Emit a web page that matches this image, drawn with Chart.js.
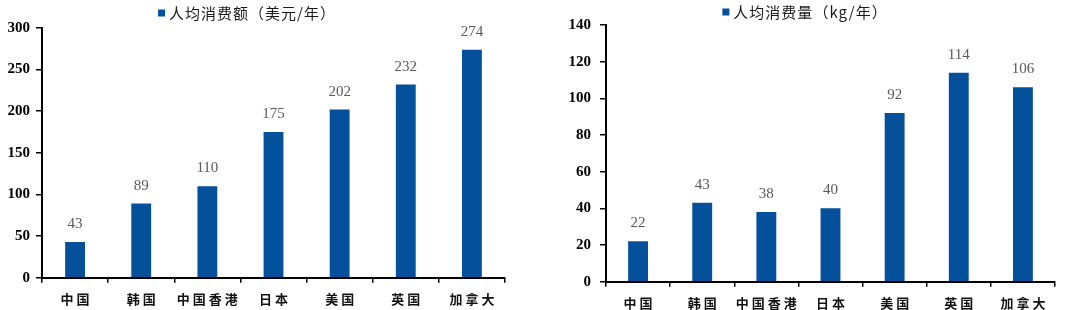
<!DOCTYPE html>
<html><head><meta charset="utf-8">
<script src="https://cdn.jsdelivr.net/npm/chart.js@4.4.0/dist/chart.umd.min.js"></script>
<style>
html,body{margin:0;padding:0;background:#fff;}
#wrap{display:flex;width:1080px;height:310px;}
.box{position:relative;width:540px;height:310px;}
</style></head><body>
<div id="wrap"><div class="box"><canvas id="c1"></canvas></div><div class="box"><canvas id="c2"></canvas></div></div>
<script>
const categories = ['中国','韩国','中国香港','日本','美国','英国','加拿大'];
const spendLabel = '人均消费额（美元/年）';
const spendValues = [43, 89, 110, 175, 202, 232, 274];
const volumeLabel = '人均消费量（kg/年）';
const volumeValues = [22, 43, 38, 40, 92, 114, 106];
const spendTicks = {min:0, max:300, step:50};
const volumeTicks = {min:0, max:140, step:20};

const BAR = '#05509a';

const valueLabels = {
  id:'valueLabels',
  afterDatasetsDraw(chart){
    const ctx = chart.ctx;
    ctx.save();
    ctx.font = '15px "Liberation Serif"';
    ctx.fillStyle = '#595959';
    ctx.textAlign = 'center';
    ctx.textBaseline = 'middle';
    const meta = chart.getDatasetMeta(0);
    meta.data.forEach((el,i)=>{
      ctx.fillText(String(chart.data.datasets[0].data[i]), el.x, el.y - 18);
    });
    ctx.restore();
  }
};
const customLegend = {
  id:'customLegend',
  afterDraw(chart, args, opts){
    const ctx = chart.ctx;
    ctx.save();
    ctx.font = '15px "Noto Sans CJK SC"';
    ctx.letterSpacing = '1px';
    const text = chart.data.datasets[0].label;
    const tw = ctx.measureText(text).width;
    const total = 7 + 4 + tw;
    const x0 = opts.cx - total/2;
    ctx.fillStyle = BAR;
    ctx.fillRect(x0, opts.cy - 3.5, 7, 7);
    ctx.fillStyle = '#1a1a1a';
    ctx.textBaseline = 'middle';
    ctx.textAlign = 'left';
    ctx.fillText(text, x0 + 11, opts.cy);
    ctx.restore();
  }
};
const spacedLabels = {
  id:'spacedLabels',
  afterLayout(chart){
    const s = chart.scales.x;
    if (!s._spaced){
      const orig = s.drawLabels.bind(s);
      s.drawLabels = function(a){
        const ctx = chart.ctx;
        ctx.save();
        ctx.letterSpacing = '3px';
        ctx.translate(1.5, 0);
        orig(a);
        ctx.restore();
      };
      s._spaced = true;
    }
  }
};

function make(id, label, values, tk, cfg){
  return new Chart(document.getElementById(id), {
    type:'bar',
    data:{labels:categories, datasets:[{label, data:values, backgroundColor:BAR,
      barPercentage:cfg.barPct, categoryPercentage:1}]},
    plugins:[valueLabels, customLegend, spacedLabels],
    options:{
      responsive:false, animation:false,
      devicePixelRatio:1,
      layout:{padding:{top:cfg.top, right:cfg.right, left:0, bottom:0}},
      plugins:{legend:{display:false}, tooltip:{enabled:false},
        customLegend:{cx:cfg.lcx, cy:cfg.lcy}},
      scales:{
        x:{
          grid:{display:true, drawOnChartArea:false, offset:true, color:'#000', lineWidth:1.5, tickLength:5},
          border:{display:true, color:'#000', width:2},
          ticks:{color:'#111', font:{family:'"Noto Sans CJK SC"', size:13, weight:'bold'}, padding:9, maxRotation:0, autoSkip:false},
          afterFit(s){ s.height = cfg.xh; }
        },
        y:{
          min:tk.min, max:tk.max,
          grid:{display:true, drawOnChartArea:false, color:'#000', lineWidth:1.5, tickLength:6},
          border:{display:true, color:'#000', width:2},
          ticks:{stepSize:tk.step, color:'#000', font:{family:'"Liberation Serif"', size:15, weight:'bold'}, padding:cfg.ypad},
          afterFit(s){ s.width = cfg.yw; }
        }
      }
    }
  });
}
const c1 = document.getElementById('c1'); c1.width=540; c1.height=310;
const c2 = document.getElementById('c2'); c2.width=540; c2.height=310;
make('c1', spendLabel, spendValues, spendTicks, {barPct:0.3, top:28, right:35, xh:32.3, yw:42, ypad:6, lcx:247, lcy:13});
make('c2', volumeLabel, volumeValues, volumeTicks, {barPct:0.31, top:25, right:25, xh:28.3, yw:66, ypad:9, lcx:265, lcy:12});
</script>
</body></html>
